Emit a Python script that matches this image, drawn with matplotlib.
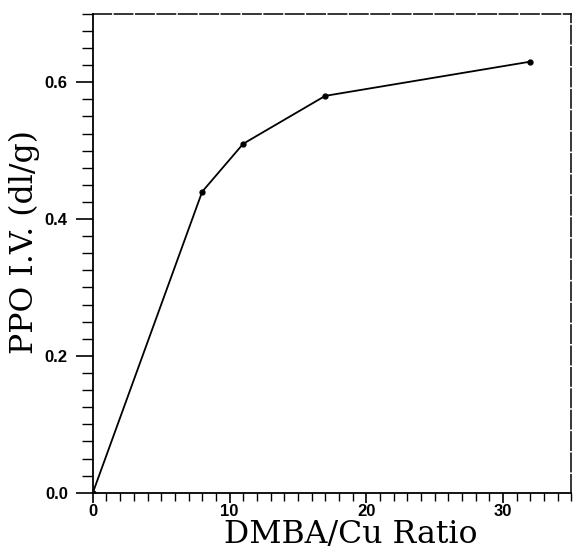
import matplotlib
matplotlib.use("Agg")
import matplotlib.pyplot as plt
from matplotlib.ticker import MultipleLocator

# DMBA/Cu ratio vs PPO intrinsic viscosity
ratio = [0, 8, 11, 17, 32]
iv = [0.0, 0.44, 0.51, 0.58, 0.63]

fig = plt.figure(figsize=(5.73, 5.5), dpi=100)
ax = fig.add_axes([0.162, 0.104, 0.835, 0.871])

ax.plot(ratio, iv, color="black", linewidth=1.3, marker="o", markersize=3.5)

ax.set_xlim(0, 35)
ax.set_ylim(0, 0.7)
ax.xaxis.set_major_locator(MultipleLocator(10))
ax.xaxis.set_minor_locator(MultipleLocator(1))
ax.yaxis.set_major_locator(MultipleLocator(0.2))
ax.yaxis.set_minor_locator(MultipleLocator(0.025))
ax.yaxis.set_major_formatter(plt.FuncFormatter(lambda v, p: f"{v:.1f}"))

ax.tick_params(axis="y", which="major", direction="out", length=12, width=1.2, pad=6)
ax.tick_params(axis="y", which="minor", direction="out", length=8, width=1.0)
ax.tick_params(axis="x", which="major", direction="out", length=7, width=1.2, pad=1)
ax.tick_params(axis="x", which="minor", direction="out", length=6, width=1.0)
for lab in ax.get_xticklabels() + ax.get_yticklabels():
    lab.set_fontfamily("Liberation Sans")
    lab.set_fontweight("bold")
    lab.set_fontsize(12)

for side in ["left", "bottom"]:
    ax.spines[side].set_linewidth(1.3)
for side in ["top", "right"]:
    ax.spines[side].set_linewidth(1.1)
    ax.spines[side].set_linestyle((0, (12, 2)))

ax.set_xlabel("DMBA/Cu Ratio", fontfamily="DejaVu Serif", fontsize=22.7)
ax.set_ylabel("PPO I.V. (dl/g)", fontfamily="DejaVu Serif", fontsize=22.7)
ax.xaxis.set_label_coords(0.54, -0.055)
ax.yaxis.set_label_coords(-0.11, 0.524)

fig.savefig("out.png", dpi=100)
